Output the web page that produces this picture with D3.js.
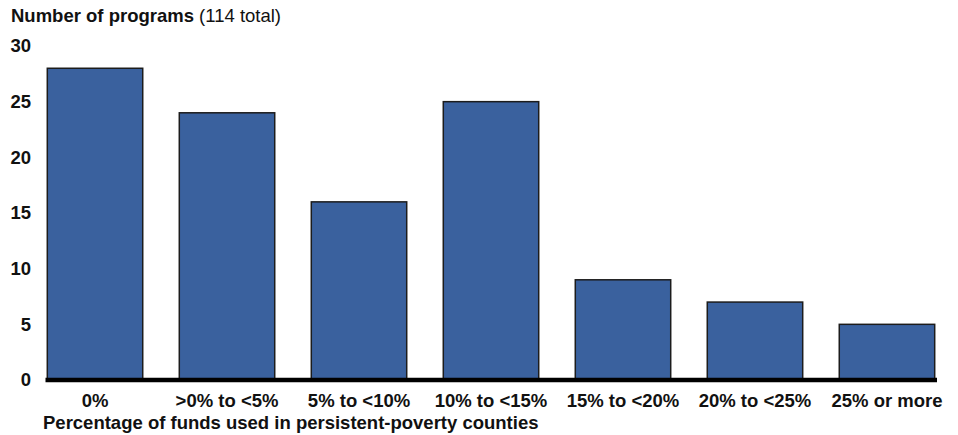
<!DOCTYPE html>
<html>
<head>
<meta charset="utf-8">
<script src="https://cdn.jsdelivr.net/npm/d3@7"></script>
<style>
  html, body { margin: 0; padding: 0; background: #fff; }
  svg { display: block; font-family: "Liberation Sans", Arial, sans-serif; }
</style>
</head>
<body>
<div id="chart"></div>
<script>
// Programs grouped by share of funds spent in persistent-poverty counties
const categories = ["0%", ">0% to <5%", "5% to <10%", "10% to <15%", "15% to <20%", "20% to <25%", "25% or more"];
const programCounts = [28, 24, 16, 25, 9, 7, 5];
const yTicks = [0, 5, 10, 15, 20, 25, 30];

const width = 958, height = 435;
const baseY = 380;
const fontSize = 18.5;

const svg = d3.select("#chart").append("svg")
  .attr("width", width)
  .attr("height", height);

const x = d3.scaleBand()
  .domain(categories)
  .range([47.3, 934.7])
  .paddingInner(0.277)
  .paddingOuter(0);

const y = d3.scaleLinear()
  .domain([0, 30])
  .range([baseY, 46]);

// Title
const title = svg.append("text")
  .attr("x", 11)
  .attr("y", 22)
  .attr("font-size", fontSize)
  .attr("fill", "#111");
title.append("tspan").attr("font-weight", "bold").text("Number of programs");
title.append("tspan").attr("font-weight", "normal").text(" (114 total)");

// Y axis labels (no axis line or tick marks)
const yAxis = d3.axisLeft(y).tickValues(yTicks).tickSize(0).tickPadding(0);
const yG = svg.append("g")
  .attr("transform", "translate(31,0)")
  .call(yAxis);
yG.select(".domain").remove();
yG.selectAll("text")
  .attr("font-size", fontSize)
  .attr("font-weight", "bold")
  .attr("font-family", "Liberation Sans, Arial, sans-serif")
  .attr("fill", "#111");

// Bars
svg.append("g")
  .selectAll("rect")
  .data(programCounts)
  .join("rect")
  .attr("x", (d, i) => x(categories[i]))
  .attr("y", d => y(d))
  .attr("width", x.bandwidth())
  .attr("height", d => baseY - y(d))
  .attr("fill", "#3a619e")
  .attr("stroke", "#1c1c1c")
  .attr("stroke-width", 1.5);

// Category labels under each bar
const xAxis = d3.axisBottom(x).tickSize(0).tickPadding(0);
const xG = svg.append("g")
  .attr("transform", `translate(0,${baseY})`)
  .call(xAxis);
xG.select(".domain").remove();
xG.selectAll("text")
  .attr("dy", null)
  .attr("y", 27)
  .attr("font-size", fontSize)
  .attr("font-weight", "bold")
  .attr("font-family", "Liberation Sans, Arial, sans-serif")
  .attr("fill", "#111");

// Heavy baseline
svg.append("line")
  .attr("x1", 45.5)
  .attr("x2", 937)
  .attr("y1", baseY)
  .attr("y2", baseY)
  .attr("stroke", "#000")
  .attr("stroke-width", 4.5);

// X axis title
svg.append("text")
  .attr("x", 43)
  .attr("y", 428.5)
  .attr("font-size", fontSize)
  .attr("font-weight", "bold")
  .attr("fill", "#111")
  .text("Percentage of funds used in persistent-poverty counties");
</script>
</body>
</html>
